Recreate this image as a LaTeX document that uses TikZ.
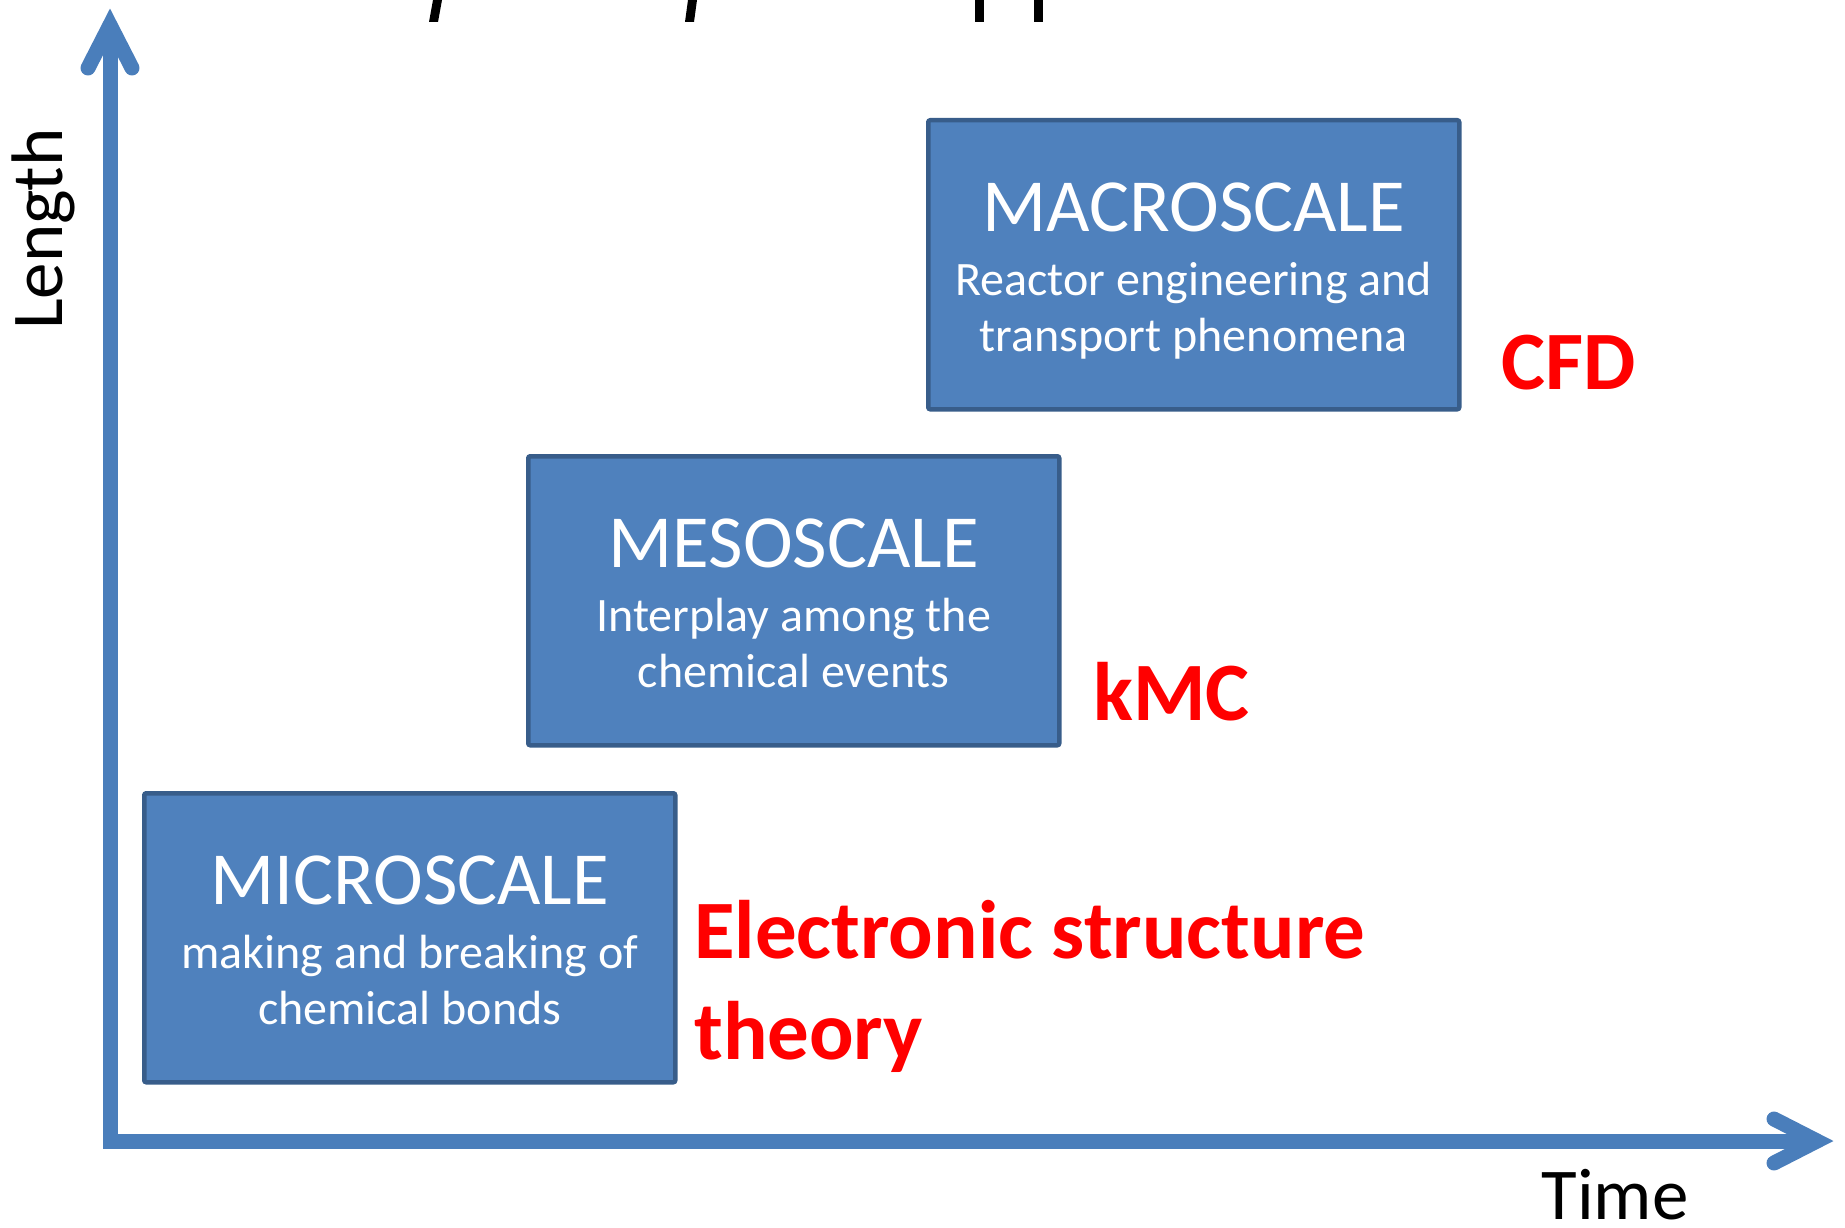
\documentclass[tikz,border=0pt]{standalone}
\usepackage{fontspec}
\setmainfont{Carlito}
\usetikzlibrary{calc}

\definecolor{scalefill}{HTML}{4F81BD}
\definecolor{scaleline}{HTML}{385D8A}
\definecolor{axisblue}{HTML}{4A7EBB}
\definecolor{methodred}{HTML}{FF0000}

\tikzset{
  scalebox/.style={draw=scaleline, fill=scalefill, line width=4.5pt,
    rounded corners=2pt, minimum width=531pt, minimum height=289pt,
    anchor=north west, inner sep=0pt},
  scaletitle/.style={text=white, anchor=base, inner sep=0pt,
    font=\fontsize{75}{90}\selectfont},
  scalesub/.style={text=white, anchor=base, inner sep=0pt,
    font=\fontsize{48}{58}\selectfont},
  method/.style={text=methodred, anchor=base west, inner sep=0pt, align=left,
    font=\bfseries\fontsize{83}{101}\selectfont},
  axislabel/.style={text=black, anchor=base, inner sep=0pt,
    font=\fontsize{73}{88}\selectfont},
  axisline/.style={draw=axisblue, line width=15pt},
  axishead/.style={draw=axisblue, line width=15pt, line cap=round, line join=miter},
  descender/.style={fill=black, draw=none}
}

\begin{document}
\begin{tikzpicture}[x=1pt, y=-1pt]
  \useasboundingbox (0,0) rectangle (1845,1228);

  % lower ends of the heading glyphs, cut by the top edge
  \fill[descender] (433,0) -- (442,0) -- (438,22) -- (429,22) -- cycle;
  \fill[descender] (688,0) -- (697,0) -- (694,22) -- (685,22) -- cycle;
  \fill[descender] (975,0) rectangle (984,22);
  \fill[descender] (1034,0) rectangle (1043,22);

  % axes
  \coordinate (origin) at (110,1141);
  \coordinate (ytop) at (110,25);
  \coordinate (yl) at (88,68);
  \coordinate (yr) at (132,68);
  \coordinate (xend) at (1817,1141);
  \coordinate (xu) at (1774,1119);
  \coordinate (xd) at (1774,1163);
  \draw[axisline] (110,1148) -- (ytop);
  \draw[axishead] (yl) -- (ytop) -- (yr);
  \draw[axisline] (103,1141) -- (xend);
  \draw[axishead] (xu) -- (xend) -- (xd);

  \node[axislabel, rotate=90] (length) at (62,229) {Length};
  \node[axislabel] (time) at (1615,1219) {Time};

  % scale boxes
  \node[scalebox] (micro) at (142,791) {};
  \node[scalebox] (meso)  at (526,454) {};
  \node[scalebox] (macro) at (926,118) {};

  \node[scaletitle] (microt) at ($(micro.north)+(0,113)$) {MICROSCALE};
  \node[scalesub]   (micros1) at ($(micro.north)+(0,177)$) {making and breaking of};
  \node[scalesub]   (micros2) at ($(micro.north)+(0,233)$) {chemical bonds};

  \node[scaletitle] (mesot) at ($(meso.north)+(0,113)$) {MESOSCALE};
  \node[scalesub]   (mesos1) at ($(meso.north)+(0,177)$) {Interplay among the};
  \node[scalesub]   (mesos2) at ($(meso.north)+(0,233)$) {chemical events};

  \node[scaletitle] (macrot) at ($(macro.north)+(0,113)$) {MACROSCALE};
  \node[scalesub]   (macros1) at ($(macro.north)+(0,177)$) {Reactor engineering and};
  \node[scalesub]   (macros2) at ($(macro.north)+(0,233)$) {transport phenomena};

  % simulation methods (base anchor sits on the last line)
  \node[method] (est) at (694,1059) {Electronic structure\\theory};
  \node[method] (kmc) at (1093,720) {kMC};
  \node[method] (cfd) at (1501,389) {CFD};
\end{tikzpicture}
\end{document}
